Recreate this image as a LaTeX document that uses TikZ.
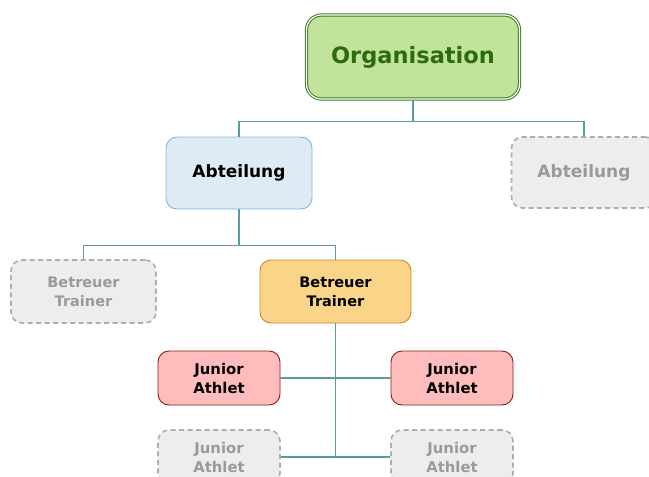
\documentclass[tikz,border=0pt]{standalone}
\usepackage{fontspec}
\setmainfont{DejaVu Sans}
\usepackage{tikz}
\usetikzlibrary{positioning}

\definecolor{orgfill}{HTML}{C2E39B}
\definecolor{orgline}{HTML}{3D7B1E}
\definecolor{orgtext}{HTML}{2E6B0A}
\definecolor{abtfill}{HTML}{DEEAF4}
\definecolor{abtline}{HTML}{80B8DC}
\definecolor{trfill}{HTML}{FAD488}
\definecolor{trline}{HTML}{C98B2C}
\definecolor{jufill}{HTML}{FFBCBC}
\definecolor{juline}{HTML}{8C1C1C}
\definecolor{grfill}{HTML}{EDEDED}
\definecolor{grline}{HTML}{AEAEAE}
\definecolor{grtext}{HTML}{9A9A9A}
\definecolor{linkcol}{HTML}{5A9CA2}

\tikzset{
  box/.style={rounded corners=11pt, align=center, font=\bfseries, line width=0.9pt},
  org/.style={box, rounded corners=15pt, draw=orgline, fill=orgfill, text=orgtext,
    double=white, double distance=1.2pt, line width=1pt, font=\bfseries\fontsize{22.5}{26}\selectfont,
    minimum width=213pt, minimum height=84pt},
  abt/.style={box, draw=abtline, fill=abtfill, font=\bfseries\fontsize{17}{20}\selectfont},
  trainer/.style={box, draw=trline, fill=trfill, font=\bfseries\fontsize{14.5}{19}\selectfont},
  junior/.style={box, draw=juline, fill=jufill, font=\bfseries\fontsize{14.8}{19}\selectfont,
    minimum width=122pt, minimum height=54pt},
  ghost/.style={draw=grline, fill=grfill, text=grtext, dash pattern=on 5pt off 3.5pt,
    line width=1.6pt},
  link/.style={draw=linkcol, line width=1.4pt}
}

\begin{document}
\begin{tikzpicture}[x=1pt,y=-1pt]
  \useasboundingbox (0,0) rectangle (649,477);

  \node[org] (org) at (413,57) {Organisation};

  \node[abt, minimum width=146pt, minimum height=72pt] (abt) at (239,173) {Abteilung};
  \node[abt, ghost, minimum width=145pt, minimum height=71pt] (abt2) at (584,172.5) {Abteilung};

  \node[trainer, ghost, minimum width=145pt, minimum height=63pt] (tr2) at (83.5,291.5) {Betreuer\\Trainer};
  \node[trainer, minimum width=151pt, minimum height=63pt] (tr) at (335.5,291.5) {Betreuer\\Trainer};

  \node[junior] (ju1) at (219,378) {Junior\\Athlet};
  \node[junior] (ju2) at (452,378) {Junior\\Athlet};
  \node[junior, ghost] (ju3) at (219,457) {Junior\\Athlet};
  \node[junior, ghost] (ju4) at (452,457) {Junior\\Athlet};

  \path[link] (org.south) -- ++(0,22) coordinate (orgfork) -| (abt.north);
  \path[link] (orgfork) -| (abt2.north);
  \path[link] (abt.south) -- ++(0,36) coordinate (abtfork) -| (tr2.north);
  \path[link] (abtfork) -| (tr.north);
  \path[link] (tr.south) -- (tr.south |- ju3.east);
  \path[link] (ju1.east) -- (ju2.west);
  \path[link] (ju3.east) -- (ju4.west);
\end{tikzpicture}
\end{document}
